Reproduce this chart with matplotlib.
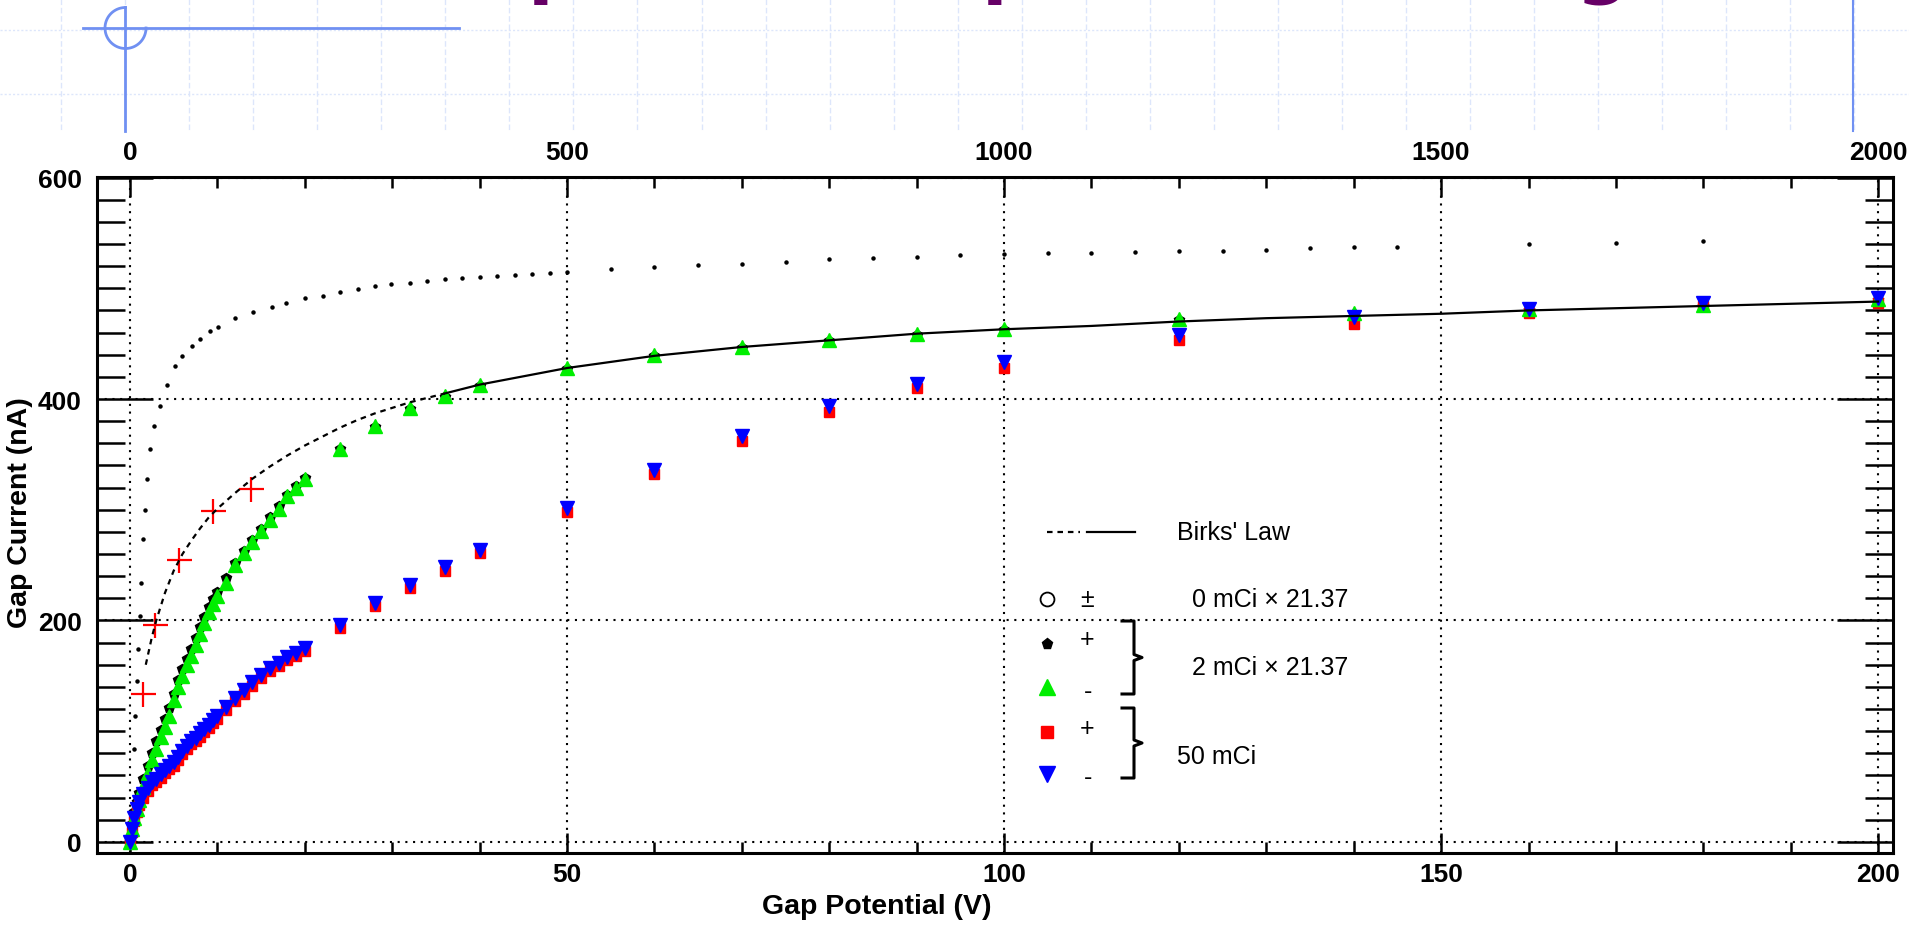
import numpy as np
import matplotlib.pyplot as plt

plt.rcParams['font.family'] = ['Liberation Sans', 'DejaVu Sans']

# ---- values ----
# gap potential (V) shared by the four measured series
gap_v = [0, 0.25, 0.5, 0.75, 1, 1.5, 2, 2.5, 3, 3.5, 4, 4.5, 5, 5.5, 6, 6.5, 7, 7.5,
         8, 8.5, 9, 9.5, 10, 11, 12, 13, 14, 15, 16, 17, 18, 19, 20, 24, 28, 32, 36,
         40, 50, 60, 70, 80, 90, 100, 120, 140, 160, 180, 200]

# 2 mCi x 21.37, negative (green)
green_na = [0, 12, 22, 30, 38, 50, 62, 74, 84, 95, 104, 114, 128, 140, 150, 160, 168,
            178, 188, 198, 208, 215, 222, 234, 250, 261, 271, 281, 291, 301, 312, 320,
            328, 355, 376, 392, 403, 413, 428, 440, 447, 453, 459, 463, 472, 478, 481,
            485, 490]
# 2 mCi x 21.37, positive (black, mostly hidden under green)
black_na = [0, 16, 27, 36, 44, 57, 69, 80, 91, 101, 111, 121, 134, 146, 156, 165, 174,
            184, 194, 203, 212, 219, 226, 238, 252, 263, 273, 283, 293, 303, 313, 321,
            329, 355, 375, 391, 402, 412, 427, 439, 446, 452, 458, 462, 471, 477, 480,
            484, 489]
# 50 mCi, negative (blue)
blue_na = [0, 12, 22, 30, 36, 43, 49, 54, 57, 61, 65, 69, 72, 77, 82, 87, 91, 94, 98,
           102, 106, 110, 114, 122, 130, 137, 144, 151, 157, 162, 167, 171, 175, 196,
           216, 232, 248, 264, 302, 336, 367, 394, 414, 433, 458, 474, 481, 487, 491]
# 50 mCi, positive (red)
red_na = [0, 9, 19, 27, 33, 40, 46, 51, 54, 58, 62, 66, 69, 74, 79, 84, 88, 91, 95, 99,
          103, 107, 111, 119, 127, 134, 141, 148, 154, 159, 164, 168, 172, 193, 213, 229,
          245, 261, 298, 332, 362, 388, 410, 428, 453, 468, 478, 484, 487]

# red crosses near the origin
plus_v = [1.5, 2.9, 5.6, 9.5, 13.8]
plus_na = [134, 196, 255, 299, 319]

# Birks' law: dashed part then solid part
birks_dash_v = [1.8, 2.5, 3, 4, 5, 6, 7, 8, 9, 10, 12, 14, 16, 18, 20, 22, 24, 26, 28,
                30, 32, 34, 36]
birks_dash_na = [160, 185, 200, 225, 245, 260, 272, 283, 293, 301, 315, 328, 339, 349,
                 358, 366, 374, 381, 387, 392, 397, 401, 405]
birks_solid_v = [36, 40, 50, 60, 70, 80, 90, 100, 110, 120, 130, 140, 150, 160, 170,
                 180, 190, 200]
birks_solid_na = [405, 413, 428, 439, 447, 453, 459, 463, 466, 470, 473, 475, 477, 480,
                  482, 484, 486, 488]

# upper dotted curve
upper_v = [0.2, 0.4, 0.6, 0.8, 0.95, 1.1, 1.3, 1.5, 1.7, 1.9, 2.3, 2.7, 3.4, 4.2, 5.1,
           5.9, 7.1, 8.0, 9.2, 10.1, 12.0, 14.1, 16.2, 17.9, 20.0, 22.1, 24.0, 26.1,
           28.0, 29.9, 32, 34, 36, 38, 40, 42, 44, 46, 48, 50, 55, 60, 65, 70, 75, 80,
           85, 90, 95, 100, 105, 110, 115, 120, 125, 130, 135, 140, 145, 160, 170, 180]
upper_na = [25, 84, 114, 145, 174, 204, 234, 274, 300, 328, 355, 376, 394, 413, 430,
            439, 448, 454, 461, 465, 473, 479, 483, 487, 491, 493, 497, 499, 502, 504,
            505, 507, 508, 509, 510, 511, 512, 513, 514, 515, 517, 519, 521, 522, 524,
            526, 527, 528, 530, 531, 532, 532, 533, 534, 534, 535, 536, 537, 537, 540,
            541, 543]

x_ticks = [0, 50, 100, 150, 200]
top_ticks = [0, 500, 1000, 1500, 2000]
y_ticks = [0, 200, 400, 600]

W, H = 1909, 929
fig = plt.figure(figsize=(W / 100, H / 100), dpi=100)

# ---- slide decoration behind the chart (pixel coordinates) ----
bg = fig.add_axes([0, 0, 1, 1], zorder=0)
bg.set_xlim(0, W)
bg.set_ylim(H, 0)
bg.axis('off')
grid_col = '#dde6fb'
for gx in np.arange(61, W, 64.05):
    bg.plot([gx, gx], [0, 132], color=grid_col, lw=1.0, ls=(0, (4, 2)))
for gy in [31, 95]:
    bg.plot([0, W], [gy, gy], color=grid_col, lw=1.0, ls=(0, (1.5, 1.5)))
blue = '#7090f2'
bg.plot([83, 459], [29, 29], color=blue, lw=2)
bg.plot([125, 125], [8, 132], color=blue, lw=2)
t = np.radians(np.linspace(90, 360, 60))
bg.plot(125.5 + 20.5 * np.cos(t), 29 - 20.5 * np.sin(t), color=blue, lw=2)
bg.plot([1853, 1853], [0, 132], color=blue, lw=1.5)

# bits of the slide title cut off at the top edge
for ch, px in [('p', 528), ('p', 982), ('g', 1576)]:
    fig.text(px / W, 1 + 11 / H, ch, color='#660066', fontsize=54, fontweight='bold',
             family='DejaVu Sans', va='baseline', ha='left')

# ---- main chart ----
left, right, top, bottom = 97, 1893, 178, 854
ax = fig.add_axes([left / W, 1 - bottom / H, (right - left) / W, (bottom - top) / H],
                  zorder=1)
ax.set_xlim(-3.78, 201.7)
ax.set_ylim(-10, 600.5)

ax.plot(upper_v, upper_na, ls='none', marker='o', ms=2.2, color='black', zorder=3)
ax.plot(plus_v, plus_na, ls='none', marker='+', ms=18, mew=1.6, color='red', zorder=3)
ax.plot(gap_v, black_na, ls='none', marker='p', ms=7, color='black', zorder=4)
ax.plot(gap_v, green_na, ls='none', marker='^', ms=9.5, color='#00ee00', mec='#00ee00',
        zorder=5)
ax.plot(gap_v, red_na, ls='none', marker='s', ms=7.5, color='red', zorder=4)
ax.plot(gap_v, blue_na, ls='none', marker='v', ms=9.5, color='blue', zorder=5)
ax.plot(birks_dash_v, birks_dash_na, color='black', lw=1.6, ls=(0, (2.5, 2.2)), zorder=6)
ax.plot(birks_solid_v, birks_solid_na, color='black', lw=1.6, zorder=6)

ax.set_xticks(x_ticks)
ax.set_xticks(np.arange(0, 201, 10), minor=True)
ax.set_yticks(y_ticks)
ax.set_yticks(np.arange(0, 601, 20), minor=True)
ax.tick_params(axis='x', which='major', direction='in', length=14.5, width=1.8,
               top=True, bottom=True, labelsize=19, pad=6.5)
ax.tick_params(axis='x', which='minor', direction='in', length=8, width=1.8,
               top=True, bottom=True)
ax.tick_params(axis='y', which='major', direction='in', length=40, width=1.8,
               left=True, right=True, labelsize=19, pad=10.8)
ax.tick_params(axis='y', which='minor', direction='in', length=20, width=1.8,
               left=True, right=True)
for lab in ax.get_xticklabels() + ax.get_yticklabels():
    lab.set_fontweight('bold')
for sp in ax.spines.values():
    sp.set_linewidth(2.2)
ax.grid(True, which='major', color='black', ls=(0, (1, 2.7)), lw=1.5)
ax.set_axisbelow(True)

sec = ax.secondary_xaxis('top', functions=(lambda v: v * 10, lambda v: v / 10))
sec.set_xticks(top_ticks)
sec.tick_params(length=0, labelsize=19, pad=9.4)
sec.spines['top'].set_visible(False)
for lab in sec.get_xticklabels():
    lab.set_fontweight('bold')

fig.text(877 / W, 1 - 907 / H, 'Gap Potential (V)', ha='center', va='center',
         fontsize=20.5, fontweight='bold')
fig.text(20 / W, 1 - 513 / H, 'Gap Current (nA)', ha='center', va='center',
         rotation=90, fontsize=20.5, fontweight='bold')


# ---- hand-made legend (pixel positions inside the frame) ----
def to_ax(px, py):
    return (px - left) / (right - left), (bottom - py) / (bottom - top)


def leg_line(xs, ys, **kw):
    pts = [to_ax(a, b) for a, b in zip(xs, ys)]
    ax.plot([p[0] for p in pts], [p[1] for p in pts], transform=ax.transAxes,
            clip_on=False, zorder=7, **kw)


def leg_text(px, py, s, ha='left'):
    x, y = to_ax(px, py)
    ax.text(x, y, s, transform=ax.transAxes, ha=ha, va='center', fontsize=18,
            zorder=7)


leg_line([1047, 1080], [533, 533], color='black', lw=1.6, ls=(0, (2.5, 2.2)))
leg_line([1087, 1135], [533, 533], color='black', lw=1.6)
leg_text(1177, 533, "Birks' Law")

leg_line([1047], [600], ls='none', marker='o', ms=10, mfc='none', mec='black', mew=1.3)
leg_line([1047], [645], ls='none', marker='p', ms=8, color='black')
leg_line([1047], [688], ls='none', marker='^', ms=11, color='#00ee00')
leg_line([1047], [733], ls='none', marker='s', ms=9, color='red')
leg_line([1047], [775], ls='none', marker='v', ms=11, color='blue')
leg_text(1087, 600, '\u00b1', ha='center')
leg_text(1087, 640, '+', ha='center')
leg_text(1088, 692, '-', ha='center')
leg_text(1087, 729, '+', ha='center')
leg_text(1088, 778, '-', ha='center')
leg_text(1192, 600, '0 mCi \u00d7 21.37')
leg_text(1192, 668, '2 mCi \u00d7 21.37')
leg_text(1177, 757, '50 mCi')

for y0, y1 in [(622, 695), (709, 779)]:
    ym = (y0 + y1) / 2
    leg_line([1122, 1134, 1134, 1142, 1134, 1134, 1122],
             [y0, y0, ym - 3, ym, ym + 3, y1, y1], color='black', lw=2.2)

fig.savefig('out.png', dpi=100)
